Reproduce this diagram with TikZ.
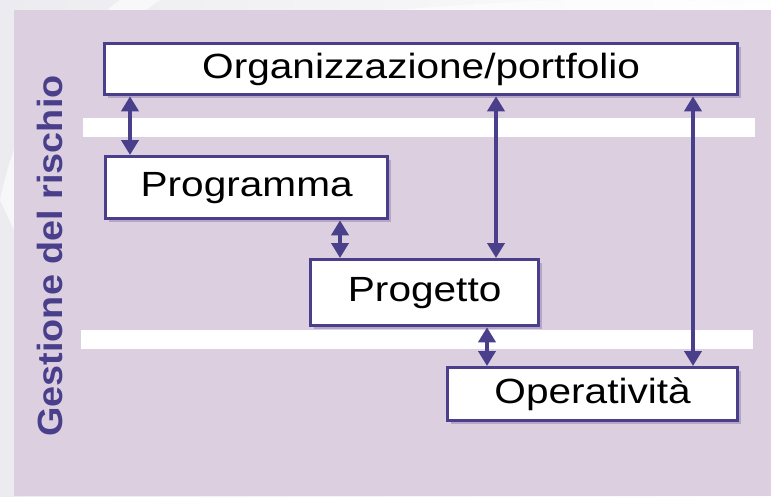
\documentclass[tikz,border=0pt]{standalone}
\usepackage{fontspec}
\setmainfont{Liberation Sans}
\usetikzlibrary{arrows.meta,shadows}
\definecolor{ink}{HTML}{4A3F8B}
\definecolor{panel}{HTML}{DBCFE0}
\definecolor{shade}{HTML}{B6A5C6}
\definecolor{paper}{HTML}{ECECF0}
% wide setting of box labels
\newcommand{\widelabel}[1]{\scalebox{1.16}[1]{#1}}
\begin{document}
\begin{tikzpicture}[x=1pt,y=-1pt,
  level/.style={draw=ink, line width=3.3pt, fill=white, inner sep=0pt,
    anchor=north west, font=\fontsize{35}{35}\selectfont,
    drop shadow={shadow xshift=3.5pt, shadow yshift=-3.5pt, fill=shade, opacity=1}},
  link/.style={draw=ink, line width=4.3pt, {Triangle[length=15pt,width=17pt]}-{Triangle[length=15pt,width=17pt]}},
  band/.style={fill=white, draw=none}]
  % page and panel
  \useasboundingbox (0,0) rectangle (771,496);
  \shade[left color=paper, right color=white!90!paper] (0,0) rectangle (771,496);
  \fill[white, opacity=0.6] (0,200) .. controls (10,150) and (40,60) .. (120,0) -- (160,0) .. controls (60,70) and (20,160) .. (14,230) -- cycle;
  \fill[white, opacity=0.5] (400,10) .. controls (500,0) and (650,-5) .. (771,5) -- (771,10) -- cycle;
  \fill[panel] (14,10) rectangle (771,496);
  % level separators
  \fill[band] (83,118) rectangle (755,137);
  \fill[band] (81,330) rectangle (753,349);
  % levels
  \node[level, minimum width=633pt, minimum height=51pt] (org) at (103,42) {\widelabel{Organizzazione/portfolio}};
  \node[level, minimum width=282pt, minimum height=62pt] (prg) at (104,155) {\widelabel{Programma}};
  \node[level, minimum width=228pt, minimum height=66pt] (prj) at (309,258) {\widelabel{Progetto}};
  \node[level, minimum width=290pt, minimum height=53pt] (ops) at (446,366) {\widelabel{Operatività}};
  % connections
  \draw[link] (org.south west -| 130,0) -- (prg.north west -| 130,0);
  \draw[link] (prg.south west -| 340,0) -- (prj.north west -| 340,0);
  \draw[link] (org.south west -| 496,0) -- (prj.north west -| 496,0);
  \draw[link] (prj.south west -| 487,0) -- (ops.north west -| 487,0);
  \draw[link] (org.south west -| 693,0) -- (ops.north west -| 693,0);
  % side title
  \node[rotate=90, anchor=base, text=ink, inner sep=0pt, font=\bfseries\fontsize{35}{35}\selectfont] (title) at (62,256) {\scalebox{1.08}[1]{Gestione del rischio}};
\end{tikzpicture}
\end{document}
